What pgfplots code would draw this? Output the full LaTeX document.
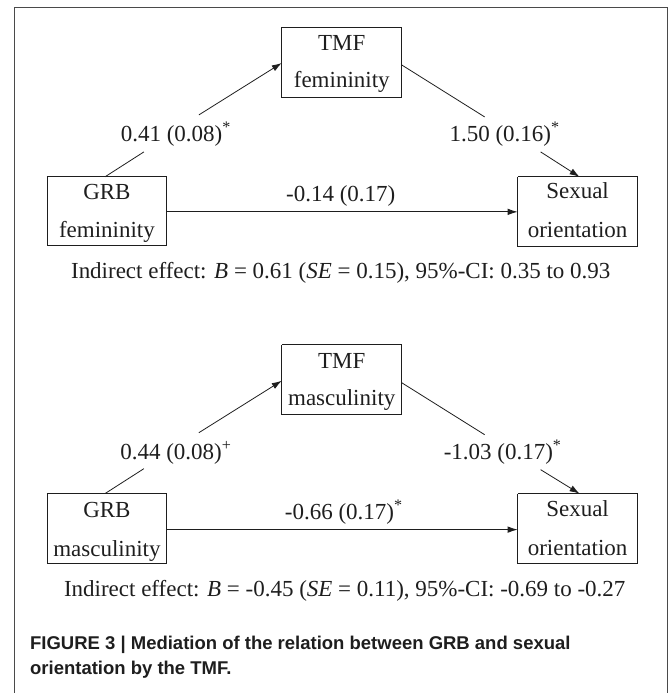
\documentclass[border=0pt]{standalone}
\usepackage{pgfplots}
\pgfplotsset{compat=1.18}
\usetikzlibrary{arrows.meta}
\usepackage{fontspec}
\setmainfont{Liberation Serif}
\newfontfamily\capfont{Liberation Sans}
\definecolor{ink}{HTML}{1E1E1E}
\definecolor{frame}{HTML}{4A4A4A}
\tikzset{
  ar/.style={-{Latex[length=10pt,width=6.5pt]}},
  txt/.style={anchor=base, font=\fontsize{23}{27}\selectfont, text=ink, inner sep=0pt},
  figcap/.style={anchor=base west, inner sep=0pt, text=ink, font=\capfont\bfseries\fontsize{18.5}{22}\selectfont},
}
\begin{document}
\begin{tikzpicture}
\begin{axis}[
  width=670pt, height=693pt, scale only axis,
  xmin=0, xmax=670, ymin=0, ymax=693, y dir=reverse,
  hide axis, clip=false,
  every axis plot/.append style={line width=0.8pt, color=ink},
]
\path (axis cs:0,0) rectangle (axis cs:670,693);
% outer frame
\addplot[frame, line width=1pt] coordinates {(15,693) (15,8) (668,8) (668,693)};
% ---------- top panel ----------
\addplot[] coordinates {(282,27) (402,27) (402,97) (282,97) (282,27)};
\addplot[] coordinates {(47,177) (167,177) (167,246) (47,246) (47,177)};
\addplot[] coordinates {(518,177) (638,177) (638,247) (518,247) (518,177)};
\addplot[] coordinates {(105,177) (144,152)};
\addplot[ar] coordinates {(199,115) (282,63)};
\addplot[] coordinates {(402,65) (485,117)};
\addplot[ar] coordinates {(541,152) (580,177)};
\addplot[ar] coordinates {(167,212) (518,212)};
\node[txt] at (axis cs:342,51) {TMF};
\node[txt] at (axis cs:342,88) {femininity};
\node[txt] at (axis cs:107,200) {GRB};
\node[txt] at (axis cs:107,238) {femininity};
\node[txt] at (axis cs:578,199) {Sexual};
\node[txt] at (axis cs:578,238) {orientation};
\node[txt] at (axis cs:176,142) {0.41 (0.08)\textsuperscript{*}};
\node[txt] at (axis cs:505,142) {1.50 (0.16)\textsuperscript{*}};
\node[txt] at (axis cs:341,202) {-0.14 (0.17)};
\node[txt] at (axis cs:341,279) {Indirect effect: \textit{B} = 0.61 (\textit{SE} = 0.15), 95\%-CI: 0.35 to 0.93};
% ---------- bottom panel ----------
\addplot[] coordinates {(282,345) (402,345) (402,415) (282,415) (282,345)};
\addplot[] coordinates {(47,494) (167,494) (167,564) (47,564) (47,494)};
\addplot[] coordinates {(518,494) (638,494) (638,564) (518,564) (518,494)};
\addplot[] coordinates {(105,494) (144,469)};
\addplot[ar] coordinates {(199,433) (282,381)};
\addplot[] coordinates {(402,383) (485,435)};
\addplot[ar] coordinates {(541,470) (580,494)};
\addplot[ar] coordinates {(167,530) (518,530)};
\node[txt] at (axis cs:342,369) {TMF};
\node[txt] at (axis cs:342,406) {masculinity};
\node[txt] at (axis cs:107,518) {GRB};
\node[txt] at (axis cs:107,557) {masculinity};
\node[txt] at (axis cs:578,517) {Sexual};
\node[txt] at (axis cs:578,556) {orientation};
\node[txt] at (axis cs:176,460) {0.44 (0.08)\textsuperscript{+}};
\node[txt] at (axis cs:503,460) {-1.03 (0.17)\textsuperscript{*}};
\node[txt] at (axis cs:344,520) {-0.66 (0.17)\textsuperscript{*}};
\node[txt] at (axis cs:345,597) {Indirect effect: \textit{B} = -0.45 (\textit{SE} = 0.11), 95\%-CI: -0.69 to -0.27};
% caption
\node[figcap] at (axis cs:30,650) {FIGURE 3 | Mediation of the relation between GRB and sexual};
\node[figcap] at (axis cs:30,675) {orientation by the TMF.};
\end{axis}
\end{tikzpicture}
\end{document}
